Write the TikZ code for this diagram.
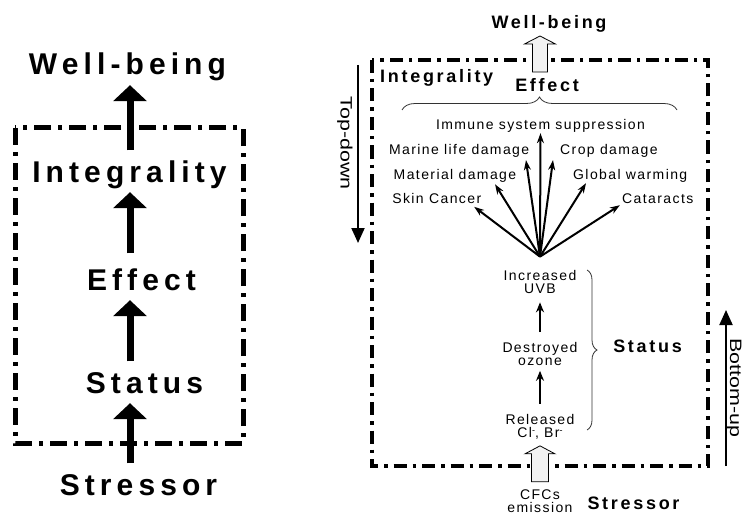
\documentclass[tikz,border=0pt]{standalone}
\usepackage{fontspec}
\setmainfont{Liberation Sans}
\newfontfamily\bigfont[LetterSpace=17]{Liberation Sans}
\newfontfamily\midfont[LetterSpace=15]{Liberation Sans}
\newfontfamily\smallfont[LetterSpace=10]{Liberation Sans}
\newfontfamily\stretchfont[FakeStretch=1.3]{Liberation Sans}
\newcommand{\ionminus}{\raisebox{4pt}{\fontsize{9}{9}\selectfont -}}
\usetikzlibrary{arrows.meta, decorations.pathreplacing}

\begin{document}
\begin{tikzpicture}[x=1pt, y=-1pt, node distance=72.5pt,
    big label/.style={font=\bigfont\bfseries\fontsize{30}{36}\selectfont, inner sep=0pt, text height=21.5pt, text depth=0pt, anchor=base},
    mid label/.style={font=\midfont\bfseries\fontsize{18}{21}\selectfont, inner sep=0pt, anchor=base},
    small label/.style={font=\smallfont\fontsize{14}{13}\selectfont, inner sep=0pt, text height=10pt, text depth=0pt},
    chain node/.style={font=\smallfont\fontsize{14}{13}\selectfont, inner sep=0pt, align=center},
    side label/.style={font=\stretchfont\fontsize{16.5}{18}\selectfont, inner sep=0pt, rotate=-90},
    big arrow/.style={line width=7pt, -{Triangle[length=16pt, width=33pt]}, shorten <=10pt, shorten >=10pt},
    fan arrow/.style={line width=2pt, -{Stealth[length=10pt, width=7pt]}},
    chain arrow/.style={line width=2.3pt, -{Stealth[length=10pt, width=8pt]}},
    side arrow/.style={line width=2pt, -{Triangle[length=15pt, width=13pt]}},
    hollow arrow/.style={draw=black, line width=0.8pt, fill=black!5, line join=miter},
    curly brace/.style={decorate, decoration={brace, amplitude=#1}, line width=0.8pt, draw=black!80}]
    \useasboundingbox (0,0) rectangle (744,516);

    % Left: labels
    \node[big label] (wb) at (127.5,75) {Well-being};
    \node[big label] (integ) at (129.5,182) {Integrality};
    \node[big label] (effect) at (141.5,290) {Effect};
    \node[big label] (status) at (144.5,393) {Status};
    \node[big label] (stressor) at (138.5,495) {Stressor};
    \coordinate (axis) at (130,0);

    % Left: box and arrows
    \draw[line width=5pt, dash pattern=on 17pt off 7pt on 4pt off 7pt] (15,128) rectangle (243,443);
    \draw[big arrow] (stressor.north -| axis) -- (status.south -| axis);
    \draw[big arrow] (status.north -| axis) -- (effect.south -| axis);
    \draw[big arrow, shorten <=15pt] (effect.north -| axis) -- (integ.south -| axis);
    \draw[big arrow] (integ.north -| axis) -- (wb.south -| axis);

    % Right: box
    \draw[line width=3.6pt, dash pattern=on 13pt off 6pt on 3.5pt off 6pt] (372,60) rectangle (708,466);

    % Right: labels
    \node[mid label] (rwb) at (549,29) {Well-being};
    \node[mid label, anchor=base west] (rinteg) at (380,83) {Integrality};
    \node[mid label] (reffect) at (547,92) {Effect};
    \node[mid label] (rstatus) at (647.5,352) {Status};
    \node[mid label] (rstressor) at (633.5,509) {Stressor};

    % Effects
    \node[small label, anchor=base] (immune) at (540.5,130) {Immune system suppression};
    \node[small label, anchor=base east] (marine) at (529.4,154) {Marine life damage};
    \node[small label, anchor=base west] (crop) at (560,154) {Crop damage};
    \node[small label, anchor=base east] (material) at (516.4,179) {Material damage};
    \node[small label, anchor=base west] (global) at (573,179) {Global warming};
    \node[small label, anchor=base east] (skin) at (481.4,203) {Skin Cancer};
    \node[small label, anchor=base west] (cataracts) at (622,203) {Cataracts};

    % Status chain
    \node[chain node] (uvb) at (540,281.5) {Increased\\UVB};
    \node[chain node] (ozone) [below of=uvb] {Destroyed\\ozone};
    \node[chain node] (released) [below of=ozone] {Released\\Cl\ionminus, Br\ionminus};
    \node[chain node] (cfcs) at (540,501.5) {CFCs\\emission};

    % Fan of arrows to the effects
    \coordinate (fan) at ([yshift=13pt]uvb.north);
    \draw[fan arrow, shorten >=3pt] (fan) -- (immune.south);
    \draw[fan arrow, shorten >=6pt] (fan) -- ([xshift=-4.3pt]marine.south east);
    \draw[fan arrow, shorten >=6pt] (fan) -- ([xshift=-6.2pt]crop.south west);
    \draw[fan arrow, shorten >=6pt] (fan) -- ([xshift=-24.5pt]material.south east);
    \draw[fan arrow, shorten >=4.7pt] (fan) -- ([xshift=15.5pt]global.south west);
    \draw[fan arrow, shorten >=6pt] (fan) -- ([xshift=-12pt]skin.south east);
    \draw[fan arrow, shorten >=3.7pt] (fan) -- ([xshift=1pt]cataracts.south west);

    % Chain arrows
    \draw[chain arrow, shorten <=10pt, shorten >=9pt] (ozone) -- (uvb);
    \draw[chain arrow, shorten <=10pt, shorten >=5pt] (released) -- (ozone);

    % Hollow arrows
    \coordinate (wbfoot) at (540,72);
    \draw[hollow arrow] (wbfoot) ++(-7.5,0) -- ++(0,-28) -- ++(-8,0) -- ++(15.5,-8) -- ++(15.5,8) -- ++(-8,0) -- ++(0,28) -- cycle;
    \coordinate (cfcfoot) at ([yshift=8pt]cfcs.north);
    \draw[hollow arrow] (cfcfoot) ++(-8.5,0) -- ++(0,-28) -- ++(-6.5,0) -- ++(15,-8) -- ++(15,8) -- ++(-6.5,0) -- ++(0,28) -- cycle;

    % Braces
    \coordinate (effleft) at (402,110);
    \coordinate (effright) at (677,110);
    \draw[curly brace=13pt] (effleft) -- (effright);
    \coordinate (stattop) at (587,270);
    \coordinate (statbot) at (587,430);
    \draw[curly brace=10pt] (stattop) -- (statbot);

    % Top-down / Bottom-up
    \node[side label] (topdown) at (345,143) {Top-down};
    \coordinate (tdstart) at (358,65);
    \coordinate (tdend) at (358,243);
    \draw[side arrow] (tdstart) -- (tdend);
    \node[side label] (bottomup) at (734,388) {Bottom-up};
    \coordinate (bustart) at (726,466);
    \coordinate (buend) at (726,310);
    \draw[side arrow] (bustart) -- (buend);
\end{tikzpicture}
\end{document}
